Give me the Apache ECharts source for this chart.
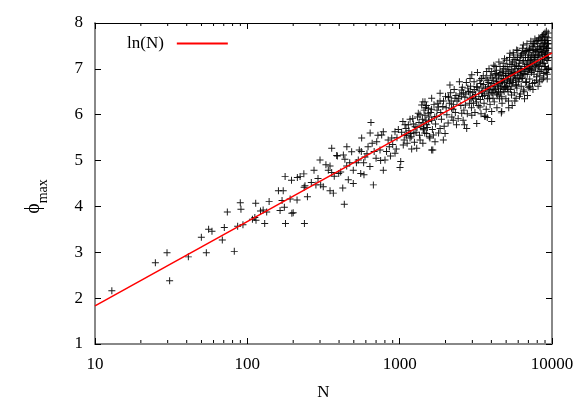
<!DOCTYPE html>
<html>
<head>
<meta charset="utf-8">
<script src="https://cdn.jsdelivr.net/npm/echarts@6/dist/echarts.min.js"></script>
<style>
  html, body { margin: 0; padding: 0; background: #fff; }
  #chart { width: 581px; height: 407px; }
</style>
</head>
<body>
<div id="chart"></div>
<script>
// scatter points: [N, phi_max]
var points = [
  [12.9,2.16],[24.9,2.77],[29.7,2.99],[30.9,2.38],[41,2.90],[49.9,3.33],[53.8,2.99],[55.7,3.50],[58.6,3.46],
  [68.5,3.27],[70.6,3.54],[73.9,3.88],[82.1,3.02],[86.4,3.57],[89.9,4.08],[90.8,3.94],[93.6,3.60],
  [108,3.72],[112,3.76],[113.5,4.07],[114,3.70],[122,3.90],[127,3.92],[130,3.63],[134,3.88],[139,4.11],
  [160,4.34],[164,3.91],[169,4.13],[172,4.34],[175,3.98],[177,4.65],[178,3.63],[191,4.16],[195,4.57],
  [196,3.85],[200,3.86],[212,4.14],[213,4.63],[222,4.65],[235,4.71],[237,3.63],[239,4.45],[236,4.42],
  [248,4.21],[263,4.52],[274,4.79],[282,4.47],[291,4.61],[300,5.01],[303,4.47],[315,4.43],[328,4.91],
  [340,4.79],[349,4.88],[349,4.34],[358,5.27],[358,4.74],[367,4.29],[372,4.66],[386,5.11],[398,4.72],
  [390,5.10],[423,4.40],[427,5.12],[433,4.05],[437,5.03],[449,4.88],[460,4.58],[484,5.19],[496,4.50],
  [496,4.79],[535,5.01],[543,5.23],[555,4.72],[563,5.49],[583,4.69],[592,5.08],[638,4.87],[648,5.83],
  [672,4.47],[660,5.38],[707,5.41],[743,5.23],[762,5.56],[781,4.79],[801,5.01],[781,5.63],[855,5.30],
  [887,5.49],[932,5.63],[932,5.16],[980,5.68],[1005,4.85],[1016,4.98],[1056,5.34],[1084,5.56],[1084,5.78],
  [1140,5.78],[1169,5.49],[1180,5.59],[1199,5.25],[1218,5.92],[1262,5.74],[1294,5.27],[1325,6.03],
  [1340,5.83],[1362,5.45],[1395,6.21],[1445,6.10],[1430,5.67],[1489,5.88],[1504,5.78],[1541,6.03],
  [1565,5.52],[1466,6.28],[1504,5.59],
  [610,5.15],[620,5.30],[680,5.20],[700,5.05],[720,5.55],[750,5.00],[820,5.20],[840,5.45],[870,5.10],
  [900,5.35],[950,5.25],[960,5.50],[520,4.95],[470,4.95],[450,5.30],[410,4.75],[560,5.20],[580,4.95],[640,5.60],
  [1420,6.28],[1622,6.36],[1541,6.14],[1466,5.99],[1430,5.70],[1622,5.88],[1665,5.56],[1580,5.49],
  [1622,5.23],[1420,5.38],[1842,6.47],[1795,6.17],[1750,5.96],[1842,5.70],[1986,5.59],[1935,5.45],
  [2084,6.39],[2138,6.65],[2190,6.14],[2248,5.88],[2306,6.36],[2360,5.78],[2467,6.72],[2555,6.54],
  [2555,6.03],[2610,5.88],[2755,5.70],[2700,6.21],[2899,6.79],[2899,6.36],[2974,6.87],[2974,5.99],
  [3050,6.25],[3206,6.61],[3206,5.81],[3368,6.17],[3450,6.79],[3450,6.47],[3631,5.96],[3724,6.94],
  [3800,6.61],[3890,6.36],[4018,6.07],[4226,7.05],[4320,6.72],[4400,6.43],[4018,5.85],
  [8995,7.78],[8900,7.63],[8340,7.48],[7537,7.56],[7100,7.45],[6484,7.52],[6350,7.34],[5863,7.41],
  [5600,7.30],[5297,7.34],[5050,7.19],[4783,7.12],[4560,7.05],[4320,6.97],[4226,6.87],[4018,6.94],
  [9200,7.45],[8995,7.26],[8900,7.05],[8340,6.94],[8600,6.76],[7943,6.83],[7178,6.58],[7350,6.97],
  [6800,6.72],[6484,6.54],[6350,6.79],[5863,6.65],[5808,6.36],[5420,6.43],[5150,6.50],[5297,6.72],
  [4900,6.61],[4783,6.79],[4560,6.68],[4677,6.39],[4450,6.50],[4100,6.58],[4100,6.36],[4677,6.07],
  [3631,5.97],[3758,5.94],[4650,6.04],[2660,5.78],[1706,5.41],[1650,5.23],
  [1030,5.62],[1070,5.45],[1100,5.70],[1120,5.38],[1150,5.65],[1190,5.52],[1230,5.80],[1250,5.40],
  [1280,5.62],[1310,5.95],[1350,5.55],[1380,5.75],[1410,5.90],[1460,5.60],[1480,6.15],[1520,5.72],
  [1560,5.95],[1600,6.05],[1640,5.68],[1680,6.22],[1720,5.80],[1760,6.10],[1800,5.60],[1840,6.30],
  [1880,5.90],[1920,6.18],[1960,5.75],[2000,6.40],
  [2040,6.00],[2080,5.82],[2120,6.25],[2160,6.48],[2200,5.95],[2240,6.12],[2280,6.55],[2320,6.05],
  [2380,6.30],[2420,5.92],[2480,6.45],[2520,6.20],[2580,6.60],[2640,6.10],[2680,6.38],[2740,6.70],
  [2780,6.02],[2830,6.50],[2870,6.25],[2920,6.62],[2960,6.15],
  [3020,6.48],[3080,6.72],[3120,6.05],[3160,6.35],[3240,6.92],[3280,6.20],[3320,6.52],[3400,6.68],
  [3420,6.02],[3500,6.40],[3540,6.85],[3580,6.25],[3660,6.58],[3700,6.12],[3760,6.75],[3820,6.45],
  [3860,7.00],[3920,6.22],[3960,6.62],[4050,6.80],[4080,6.48],[4150,7.08],[4180,6.28],[4250,6.55],
  [4280,6.90],[4350,6.15],[4380,6.65],[4450,6.85],[4480,7.15],[4520,6.35],[4600,6.58],[4620,6.92],
  [4700,6.25],[4720,6.72],[4800,7.00],[4850,6.50],[4880,7.22],[4950,6.85],[4980,6.35],
  [5020,6.62],[5080,7.05],[5120,6.78],[5180,6.30],[5220,6.95],[5260,7.25],[5330,6.55],[5380,6.88],
  [5450,7.10],[5480,6.20],[5520,6.70],[5560,7.35],[5620,6.92],[5660,6.48],[5700,7.05],[5750,6.80],
  [5800,7.20],[5880,6.58],[5920,6.95],[5960,7.40],[6020,6.72],[6080,7.12],[6120,6.40],[6180,6.88],
  [6220,7.28],[6280,6.62],[6330,7.00],[6400,7.45],[6420,6.80],[6520,7.18],[6560,6.50],[6620,6.98],
  [6680,7.38],[6720,6.70],[6780,7.10],[6850,7.55],[6880,6.88],[6940,7.25],[6980,6.60],
  [7040,7.02],[7080,7.40],[7140,6.78],[7220,7.20],[7260,7.60],[7320,6.92],[7400,7.30],[7450,6.68],
  [7480,7.12],[7580,7.48],[7620,6.88],[7680,7.25],[7720,7.65],[7780,7.02],[7850,7.38],[7900,6.75],
  [7980,7.15],[8020,7.55],[8080,6.95],[8150,7.30],[8200,7.68],[8250,7.08],[8320,6.85],[8380,7.42],
  [8440,7.20],[8500,7.62],[8560,6.98],[8620,7.35],[8680,7.72],[8720,7.12],[8780,7.48],[8850,6.90],
  [8920,7.28],[8960,7.58],[9050,7.05],[9100,7.40],[9150,7.70],[9220,6.98],[9280,7.32],[9330,7.55],
  [9380,7.18],[9420,7.68],[9450,7.45],[9480,7.02],
  [3010,6.38],[3090,6.55],[3150,6.44],[3190,6.28],[3230,6.60],[3310,6.40],[3360,6.75],[3390,6.33],
  [3470,6.58],[3520,6.50],[3560,6.66],[3610,6.42],[3690,6.80],[3740,6.52],[3780,6.35],[3840,6.70],
  [3880,6.55],[3940,6.85],[3990,6.48],[4030,6.68],[4120,6.75],[4160,6.52],[4210,6.62],[4300,6.80],
  [4330,6.45],[4420,6.72],[4460,6.58],[4540,6.88],[4580,6.48],[4640,6.78],[4680,6.62],[4740,6.95],
  [4780,6.55],[4820,6.85],[4870,6.70],[4920,7.05],[4960,6.60],
  [5000,6.90],[5060,6.75],[5100,6.58],[5140,6.98],[5200,6.85],[5240,6.68],[5290,7.10],[5350,6.78],
  [5400,6.98],[5440,6.62],[5500,7.15],[5540,6.90],[5580,6.75],[5640,7.20],[5680,6.85],[5720,7.00],
  [5780,6.65],[5840,7.08],[5900,6.80],[5940,7.25],[5990,6.92],[6050,7.05],[6100,6.78],[6150,7.18],
  [6200,7.00],[6250,6.85],[6300,7.30],[6360,6.95],[6440,7.15],[6480,6.90],[6540,7.35],[6600,7.05],
  [6650,6.88],[6700,7.25],[6750,7.00],[6820,7.40],[6900,7.10],[6960,6.95],
  [7000,7.30],[7060,7.18],[7120,7.00],[7180,7.42],[7240,7.05],[7300,7.28],[7360,7.15],[7420,7.50],
  [7500,6.98],[7540,7.35],[7600,7.20],[7650,7.55],[7700,7.08],[7760,7.40],[7820,7.25],[7880,7.60],
  [7940,7.10],[8000,7.42],[8060,7.28],[8120,7.62],[8180,7.05],[8240,7.45],[8300,7.30],[8360,7.65],
  [8420,7.15],[8480,7.50],[8540,7.35],[8600,7.70],[8660,7.20],[8700,7.55],[8760,7.38],[8820,7.75],
  [8880,7.12],[8940,7.48],[9000,7.62],[9060,7.32],[9120,7.55],[9180,7.82],[9240,7.22],[9300,7.45],
  [9360,7.62],[9400,7.35],[9440,7.78],[9470,7.55],[9490,7.25],[9410,7.00],[9320,6.88],[9150,6.92],
  [5200,6.15],[5700,6.30],[6200,6.45],[6600,6.35],[7100,6.62],[7700,6.70],[8300,6.72],[8800,6.80],
  [9300,6.78],[6900,6.42],[7500,6.55],[8100,6.62],
  [1050,5.85],[1110,5.55],[1170,5.90],[1240,5.60],[1300,5.72],[1360,6.00],[1440,5.82],[1500,6.20],
  [1550,5.85],[1620,6.12],[1700,5.95],[1780,6.25],[1860,6.05],[1940,6.30],[2020,6.15],[2100,6.38],
  [2180,6.30],[2260,6.22],[2340,6.42],[2440,6.35],[2540,6.40],[2620,6.48],[2720,6.45],[2800,6.58],
  [2900,6.50],[2950,6.35]
];

// red ln(N) curve (straight on the log axis), end points
var fitLine = [[10, 1.83], [10000, 7.35]];

var xMinorTicks = [20,30,40,50,60,70,80,90,200,300,400,500,600,700,800,900,2000,3000,4000,5000,6000,7000,8000,9000];

var serif = "'Liberation Serif', 'DejaVu Serif', serif";
var plusSymbol = 'path://M4.3,0H5.7V4.3H10V5.7H5.7V10H4.3V5.7H0V4.3H4.3Z';

function renderMinorTick(params, api) {
  var v = api.value(0);
  var lo = api.coord([v, 1]);
  var hi = api.coord([v, 8]);
  return {
    type: 'group',
    children: [
      {type: 'line', shape: {x1: lo[0], y1: lo[1] - 1, x2: lo[0], y2: lo[1] - 4}, style: {stroke: '#000', lineWidth: 1}},
      {type: 'line', shape: {x1: hi[0], y1: hi[1], x2: hi[0], y2: hi[1] + 3}, style: {stroke: '#000', lineWidth: 1}}
    ]
  };
}

var chart = echarts.init(document.getElementById('chart'));
chart.setOption({
  animation: false,
  backgroundColor: '#fff',
  grid: {left: 95, right: 29, top: 23, bottom: 63},
  legend: {
    data: ['ln(N)'],
    left: 122,
    top: 30,
    align: 'right',
    icon: 'rect',
    itemWidth: 51,
    itemHeight: 2,
    textStyle: {fontFamily: serif, fontSize: 17, color: '#000', padding: [0, 8, 0, 0]}
  },
  xAxis: [
    {
      type: 'log', logBase: 10, min: 10, max: 10000, position: 'bottom',
      axisLine: {onZero: false, lineStyle: {color: '#888', width: 2}},
      axisTick: {inside: true, length: 6, lineStyle: {color: '#000'}},
      axisLabel: {fontFamily: serif, fontSize: 17, color: '#000', margin: 12,
        formatter: function (v) { return String(Math.round(v)); }},
      splitLine: {show: false},
      name: 'N', nameLocation: 'middle', nameGap: 40,
      nameTextStyle: {fontFamily: serif, fontSize: 17, color: '#000'}
    },
    {
      type: 'log', logBase: 10, min: 10, max: 10000, position: 'top',
      axisLine: {onZero: false, lineStyle: {color: '#000', width: 1}},
      axisTick: {inside: true, length: 6, lineStyle: {color: '#000'}},
      axisLabel: {show: false},
      splitLine: {show: false}
    }
  ],
  yAxis: [
    {
      type: 'value', min: 1, max: 8, interval: 1, position: 'left',
      axisLine: {show: true, lineStyle: {color: '#888', width: 2}},
      axisTick: {show: true, inside: true, length: 6, lineStyle: {color: '#000'}},
      axisLabel: {fontFamily: serif, fontSize: 17, color: '#000', margin: 12},
      splitLine: {show: false},
      name: '{p|ϕ}{s|max}', nameLocation: 'middle', nameGap: 45, nameRotate: 90,
      nameTextStyle: {
        color: '#000',
        padding: [0, 26, 0, 0],
        rich: {
          p: {fontFamily: serif, fontSize: 20, color: '#000', lineHeight: 26, verticalAlign: 'top'},
          s: {fontFamily: serif, fontSize: 14, color: '#000', lineHeight: 26, verticalAlign: 'bottom'}
        }
      }
    },
    {
      type: 'value', min: 1, max: 8, interval: 1, position: 'right',
      axisLine: {show: true, lineStyle: {color: '#888', width: 2}},
      axisTick: {show: true, inside: true, length: 6, lineStyle: {color: '#000'}},
      axisLabel: {show: false},
      splitLine: {show: false}
    }
  ],
  series: [
    {
      name: 'data',
      type: 'scatter',
      data: points,
      symbol: plusSymbol,
      symbolSize: 7,
      itemStyle: {color: '#000', opacity: 0.9},
      silent: true,
      z: 2
    },
    {
      name: 'ln(N)',
      type: 'line',
      data: fitLine,
      showSymbol: false,
      lineStyle: {color: '#ff0000', width: 1.5},
      itemStyle: {color: '#ff0000'},
      silent: true,
      z: 3
    },
    {
      name: 'minor',
      type: 'custom',
      data: xMinorTicks.map(function (v) { return [v, 1]; }),
      renderItem: renderMinorTick,
      clip: false,
      silent: true,
      z: 4
    }
  ]
});
</script>
</body>
</html>
